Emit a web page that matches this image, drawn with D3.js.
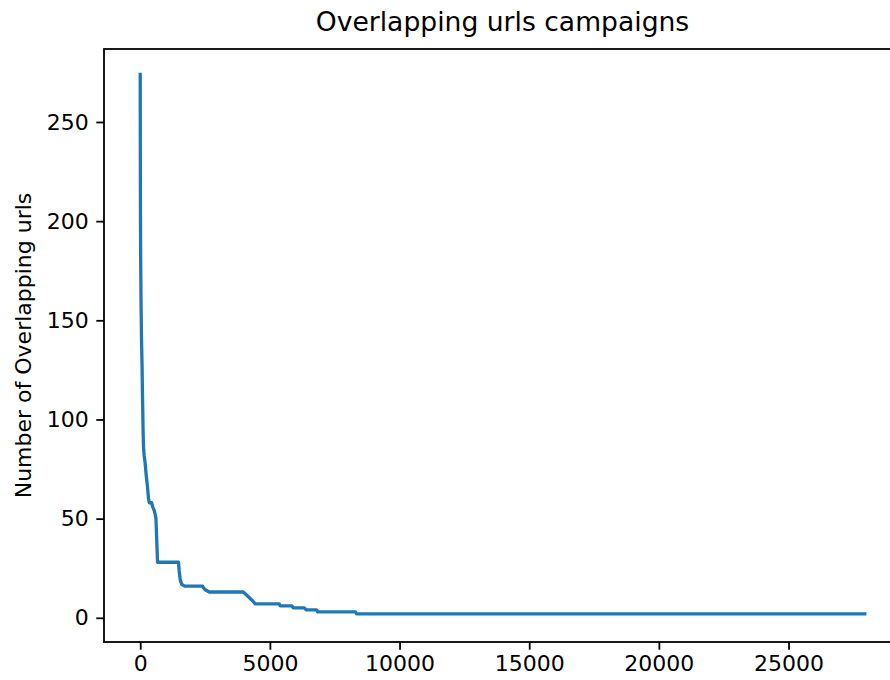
<!DOCTYPE html>
<html>
<head>
<meta charset="utf-8">
<script src="https://cdn.jsdelivr.net/npm/d3@7"></script>
<style>
  body { margin: 0; background: #fff; }
  svg { display: block; }
  text { font-family: "DejaVu Sans", sans-serif; fill: #000; }
</style>
</head>
<body>
<div id="container"></div>
<script>
var w = 890
var h = 680

// campaign index (sorted by overlap) and number of overlapping urls
var idx = [0, 3, 8, 15, 30, 50, 70, 90, 110, 127, 150, 190, 230, 280, 320, 350, 440, 480, 540, 580, 606, 668,
  1478, 1500, 1543, 1600, 1698, 2404, 2440, 2520, 2662, 3974, 4141, 4300, 4437, 5363, 5400, 5852, 5900,
  6327, 6400, 6800, 6841, 8300, 8340, 27940]
var overlaps = [274, 240, 210, 185, 160, 140, 128, 110, 95, 86, 82, 78, 72, 66, 60, 58, 58, 56, 54, 52, 50, 28,
  28, 24, 19, 17, 16, 16, 15, 14, 13, 13, 11, 9, 7, 7, 6, 6, 5,
  5, 4, 4, 3, 3, 2, 2]

var xTicks = [0, 5000, 10000, 15000, 20000, 25000]
var yTicks = [0, 50, 100, 150, 200, 250]

var title = "Overlapping urls campaigns"
var yLabel = "Number of Overlapping urls"

var data = idx.map(function (d, i) { return [d, overlaps[i]] })

var margin = { left: 104, top: 49, right: 901, bottom: 642 }

var svg = d3.select("#container").append("svg")
    .attr("width", w)
    .attr("height", h)

var x = d3.scaleLinear().domain([-1397, 29337]).range([margin.left, margin.right])
var y = d3.scaleLinear().domain([-12.2, 286.8]).range([margin.bottom, margin.top])

// line
var line = d3.line()
    .x(function (d) { return x(d[0]) })
    .y(function (d) { return y(d[1]) })

svg.append("path")
    .datum(data)
    .attr("d", line)
    .attr("fill", "none")
    .attr("stroke", "#1f77b4")
    .attr("stroke-width", 3.3)
    .attr("stroke-linejoin", "round")
    .attr("stroke-linecap", "square")

// axes
var xAxis = d3.axisBottom(x).tickValues(xTicks).tickFormat(d3.format("d"))
    .tickSizeInner(7.7).tickSizeOuter(0).tickPadding(6)
var yAxis = d3.axisLeft(y).tickValues(yTicks).tickFormat(d3.format("d"))
    .tickSizeInner(7.7).tickSizeOuter(0).tickPadding(7.5)

var gx = svg.append("g")
    .attr("transform", "translate(0," + margin.bottom + ")")
    .call(xAxis)
var gy = svg.append("g")
    .attr("transform", "translate(" + margin.left + ",0)")
    .call(yAxis)

svg.selectAll(".domain").remove()
svg.selectAll(".tick line").attr("stroke", "#000").attr("stroke-width", 1.8)
svg.selectAll(".tick text")
    .style("font-family", "DejaVu Sans, sans-serif")
    .style("font-size", "22px")
    .attr("fill", "#000")

// frame
svg.append("rect")
    .attr("x", margin.left)
    .attr("y", margin.top)
    .attr("width", margin.right - margin.left)
    .attr("height", margin.bottom - margin.top)
    .attr("fill", "none")
    .attr("stroke", "#000")
    .attr("stroke-width", 1.8)

// title
svg.append("text")
    .attr("x", (margin.left + margin.right) / 2)
    .attr("y", 31)
    .attr("text-anchor", "middle")
    .style("font-size", "26.6px")
    .text(title)

// y label
svg.append("text")
    .attr("transform", "translate(31," + (margin.top + margin.bottom) / 2 + ") rotate(-90)")
    .attr("text-anchor", "middle")
    .style("font-size", "22px")
    .text(yLabel)
</script>
</body>
</html>
